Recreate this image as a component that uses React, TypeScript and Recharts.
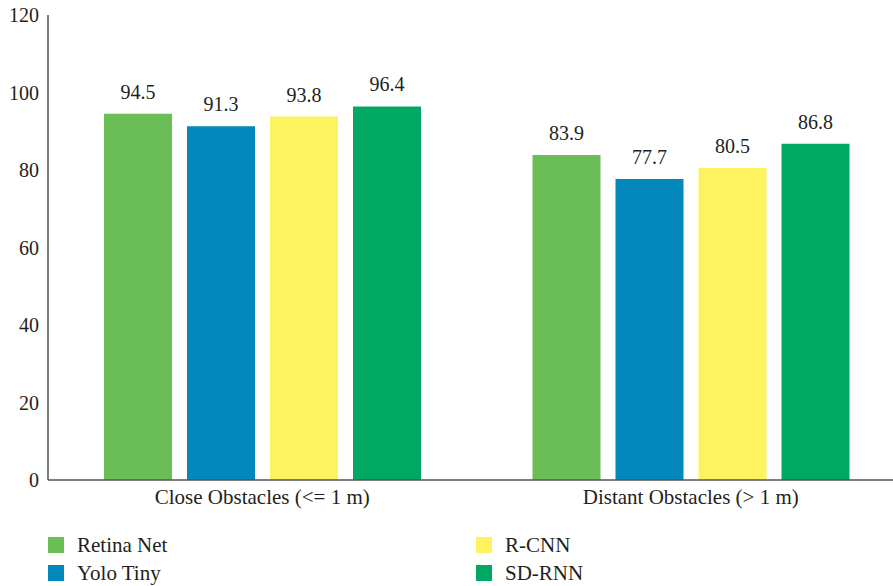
import { BarChart, Bar, XAxis, YAxis, LabelList } from 'recharts'

const categories = ['Close Obstacles (<= 1 m)', 'Distant Obstacles (> 1 m)']
const retinaNet = [94.5, 83.9]
const yoloTiny = [91.3, 77.7]
const rCnn = [93.8, 80.5]
const sdRnn = [96.4, 86.8]
const yTicks = [0, 20, 40, 60, 80, 100, 120]

const series = [
    { key: 'retina', name: 'Retina Net', color: '#6BBE55' },
    { key: 'yolo', name: 'Yolo Tiny', color: '#0388BB' },
    { key: 'rcnn', name: 'R-CNN', color: '#FDF25F' },
    { key: 'sdrnn', name: 'SD-RNN', color: '#00A862' },
]

const data = categories.map((name, i) => ({
    name,
    retina: retinaNet[i],
    yolo: yoloTiny[i],
    rcnn: rCnn[i],
    sdrnn: sdRnn[i],
}))

const FONT = 'Liberation Serif, serif'
const TEXT = '#231F20'
const AXIS = '#555555'

// legend is laid out in 2 columns, read column-wise
const legendPos = [
    { left: 48, top: 537 },
    { left: 48, top: 565 },
    { left: 476, top: 537 },
    { left: 476, top: 565 },
]

export default function App() {
    return (
        <div style={{ position: 'absolute', left: 0, top: 0, width: 893, height: 586, overflow: 'hidden', background: '#fff', fontFamily: FONT }}>
            <BarChart
                width={905}
                height={510}
                data={data}
                margin={{ top: 15, right: 0, left: 0, bottom: 0 }}
                barSize={68}
                barGap={15}
            >
                <XAxis
                    dataKey="name"
                    tickLine={false}
                    axisLine={{ stroke: AXIS, strokeWidth: 1.5 }}
                    tick={{ fill: TEXT, fontSize: 21, fontFamily: FONT }}
                    height={30}
                    tickMargin={3}
                />
                <YAxis
                    domain={[0, 120]}
                    ticks={yTicks}
                    width={48}
                    tickLine={false}
                    axisLine={{ stroke: AXIS, strokeWidth: 1.5 }}
                    tick={{ fill: TEXT, fontSize: 20, fontFamily: FONT, dx: -1 }}
                />
                {series.map((s) => (
                    <Bar key={s.key} dataKey={s.key} name={s.name} fill={s.color} isAnimationActive={false}>
                        <LabelList dataKey={s.key} position="top" offset={15} fill={TEXT} fontSize={20} fontFamily={FONT} />
                    </Bar>
                ))}
            </BarChart>
            {series.map((s, i) => (
                <div
                    key={s.key}
                    style={{ position: 'absolute', left: legendPos[i].left, top: legendPos[i].top, display: 'flex', alignItems: 'center', height: 16 }}
                >
                    <span style={{ width: 16, height: 16, background: s.color, display: 'inline-block' }} />
                    <span style={{ marginLeft: 13, fontSize: 21, color: TEXT, whiteSpace: 'nowrap' }}>{s.name}</span>
                </div>
            ))}
        </div>
    )
}
